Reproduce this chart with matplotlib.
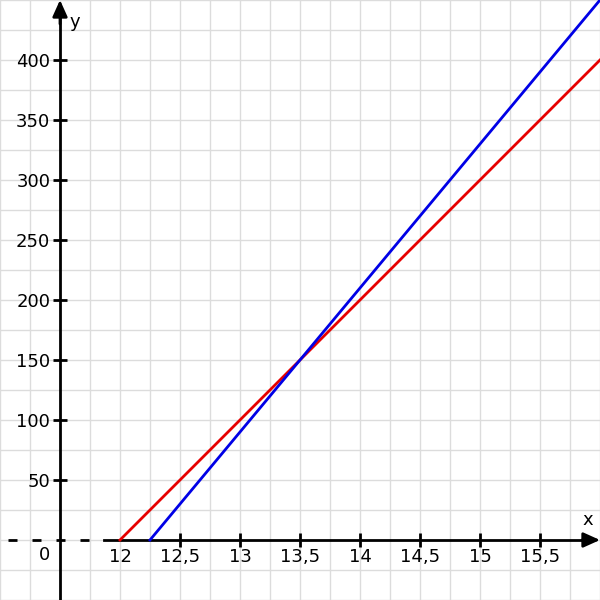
import matplotlib
matplotlib.use("Agg")
import matplotlib.pyplot as plt
from matplotlib.ticker import MultipleLocator, FixedLocator
import numpy as np

# data
red_x = [12.0, 16.0]
red_y = [0.0, 400.0]
blue_x = [12.25, 16.0]
blue_y = [0.0, 450.0]
xticks = [12, 12.5, 13, 13.5, 14, 14.5, 15, 15.5]
xtick_labels = ["12", "12,5", "13", "13,5", "14", "14,5", "15", "15,5"]
yticks = [50, 100, 150, 200, 250, 300, 350, 400]
ytick_labels = ["50", "100", "150", "200", "250", "300", "350", "400"]

plt.rcParams['font.family'] = ['DejaVu Sans']
fig = plt.figure(figsize=(6, 6), dpi=100)
ax = fig.add_axes([0, 0, 1, 1])
ax.set_xlim(11, 16)
ax.set_ylim(-50, 450)

ax.xaxis.set_major_locator(FixedLocator(xticks))
ax.set_xticklabels(xtick_labels)
ax.yaxis.set_major_locator(FixedLocator(yticks))
ax.set_yticklabels(ytick_labels)

# grid
ax.xaxis.set_minor_locator(MultipleLocator(0.25))
ax.yaxis.set_minor_locator(MultipleLocator(25))
ax.grid(which='both', color='#dcdcdc', linewidth=1.0)
ax.set_axisbelow(True)
ax.tick_params(which='minor', length=0)

# spines / axes
for s in ['top', 'right']:
    ax.spines[s].set_visible(False)
ax.spines['left'].set_position(('data', 11.5))
ax.spines['bottom'].set_position(('data', 0))
ax.spines['left'].set_linewidth(2)
ax.spines['bottom'].set_linewidth(2)
ax.spines['bottom'].set_bounds(11.867, 15.9)
ax.spines['left'].set_bounds(-50, 440)
ax.spines['left'].set_zorder(1)
ax.spines['bottom'].set_zorder(1)

ax.tick_params(which='major', direction='inout', length=10, width=2,
               labelsize=13, pad=2)
ax.tick_params(axis='x', pad=1)
ax.xaxis.get_major_ticks()[0].tick1line.set_visible(False)

# dashed part of x axis
ax.plot([11.0, 11.867], [0, 0], color='black', linewidth=2,
        linestyle=(5.76, (3.24, 5.4)), solid_capstyle='butt',
        dash_capstyle='butt', zorder=1, clip_on=False)
# arrows
ax.annotate('', xy=(16.0, 0), xytext=(15.85, 0),
            arrowprops=dict(arrowstyle='-|>,head_length=1.0,head_width=0.45',
                            color='black', lw=2, shrinkA=0, shrinkB=0), zorder=3)
ax.annotate('', xy=(11.5, 450), xytext=(11.5, 430),
            arrowprops=dict(arrowstyle='-|>,head_length=1.0,head_width=0.45',
                            color='black', lw=2, shrinkA=0, shrinkB=0), zorder=3)

ax.text(15.9, 17, 'x', fontsize=13, ha='center', va='center')
ax.text(11.625, 432, 'y', fontsize=13, ha='center', va='center')
ax.text(11.375, -12.5, '0', fontsize=13, ha='center', va='center')

ax.plot(red_x, red_y, color='#e60000', linewidth=2, zorder=4)
ax.plot(blue_x, blue_y, color='#0000e6', linewidth=2, zorder=5)

fig.savefig('out.png', dpi=100)
